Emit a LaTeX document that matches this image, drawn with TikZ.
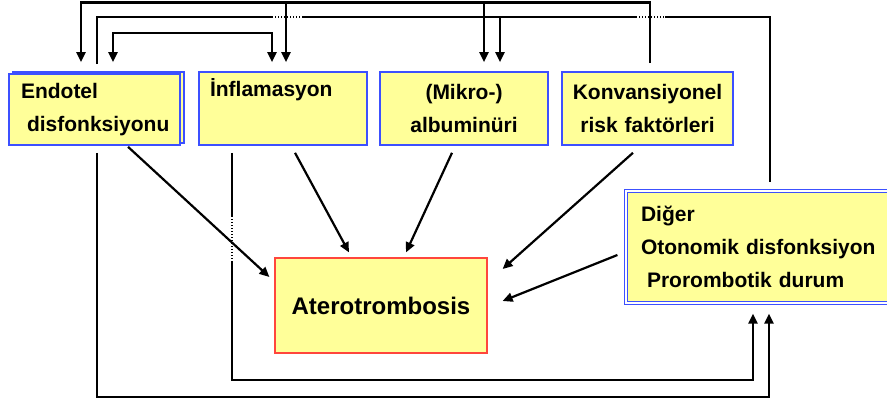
\documentclass[tikz,border=0pt]{standalone}
\usepackage{fontspec}
\setmainfont{Liberation Sans}
\usetikzlibrary{arrows.meta,shadows}
\definecolor{BoxBlue}{RGB}{60,80,255}
\definecolor{BoxYellow}{RGB}{255,255,153}
\definecolor{BoxRed}{RGB}{255,70,60}
\tikzset{
  box/.style={draw=BoxBlue,fill=BoxYellow,line width=1.6pt,inner sep=0pt,
    font=\fontsize{21}{33}\selectfont\bfseries},
  conn/.style={draw=black,line width=2.2pt},
  arr/.style={-{Triangle[length=10pt,width=9pt]}},
  arrboth/.style={{Triangle[length=10pt,width=9pt]}-{Triangle[length=10pt,width=9pt]}},
}
\tikzset{crossgap/.style={draw=white,line width=2.6pt,dash pattern=on 1.5pt off 1.5pt}}

\begin{document}
\begin{tikzpicture}[x=1pt,y=-1pt]
\path[fill=white,use as bounding box] (0,0) rectangle (887,404);
\node[box,copy shadow={shadow xshift=4pt,shadow yshift=2pt},minimum height=71pt,
  text width=147pt,inner xsep=12pt,align=left] (endo) at (94.5,109.5)
  {Endotel\\\hspace*{6pt}\mbox{disfonksiyonu}};
\node[box,minimum height=73pt,text width=146pt,inner xsep=11pt,align=left] (infl) at (283,108.5)
  {İnflamasyon\\\strut};
\node[box,minimum height=73pt,text width=168pt,align=center] (mikro) at (464,108.5)
  {(Mikro-)\hspace*{18pt}\\albuminüri};
\node[box,minimum height=73pt,text width=171pt,align=center] (konv) at (647.5,108.5)
  {Konvansiyonel\\risk faktörleri};
\node[box,line width=1.2pt,double=white,double distance=1.5pt,minimum height=112pt,
  text width=245pt,inner xsep=15pt,align=left] (digr) at (763.5,247)
  {Diğer\\Otonomik disfonksiyon\\\hspace*{6pt}Prorombotik durum};
\node[box,draw=BoxRed,line width=1.2pt,minimum width=212pt,minimum height=95pt,
  font=\fontsize{24}{29}\selectfont\bfseries] (atero) at (381,305.5) {Aterotrombosis};

\coordinate (top1) at (0,2.5);
\coordinate (top2) at (0,17);
\coordinate (top3) at (0,33);
\coordinate (bot1) at (0,397);
\coordinate (bot2) at (0,380);

% upper loops
\draw[conn] ([xshift=2.5pt,yshift=9pt]endo.north) -- ([xshift=2.5pt]endo.north |- top2)
  -| ([xshift=6.5pt,yshift=8pt]digr.north);
\draw[conn,arr] ([xshift=36pt]mikro.north |- top2) -- ([xshift=36pt,yshift=9pt]mikro.north);
\draw[crossgap] (273,17) -- (302,17);
\draw[crossgap] (637,17) -- (665,17);
\draw[conn,arr] ([xshift=2.5pt,yshift=8pt]konv.north) -- ([xshift=2.5pt]konv.north |- top1)
  -| ([xshift=-13.5pt,yshift=11pt]endo.north);
\draw[conn,arr] ([xshift=3pt]infl.north |- top1) -- ([xshift=3pt,yshift=9pt]infl.north);
\draw[conn,arr] ([xshift=20pt]mikro.north |- top1) -- ([xshift=20pt,yshift=9pt]mikro.north);
\draw[conn,arrboth] ([xshift=18.5pt,yshift=11pt]endo.north) -- ([xshift=18.5pt]endo.north |- top3)
  -| ([xshift=-11pt,yshift=9pt]infl.north);

% lower loops
\draw[conn,arr] ([xshift=-51pt,yshift=-7pt]infl.south) -- ([xshift=-51pt]infl.south |- bot2)
  -| ([xshift=-10.5pt,yshift=-10pt]digr.south);
\draw[crossgap] (232,217) -- (232,262);
\draw[conn,arr] ([xshift=2.5pt,yshift=-7pt]endo.south) -- ([xshift=2.5pt]endo.south |- bot1)
  -| ([xshift=5.5pt,yshift=-10pt]digr.south);

% into aterotrombosis
\draw[conn,arr] ([xshift=33.5pt,yshift=-1pt]endo.south) -- ([xshift=-5pt,yshift=28.5pt]atero.west);
\draw[conn,arr] ([xshift=12pt,yshift=-7pt]infl.south) -- ([xshift=-32pt,yshift=5pt]atero.north);
\draw[conn,arr] ([xshift=-12pt,yshift=-7pt]mikro.south) -- ([xshift=25pt,yshift=5pt]atero.north);
\draw[conn,arr] ([xshift=-14.5pt,yshift=-7pt]konv.south) -- ([xshift=15pt,yshift=36.5pt]atero.east);
\draw[conn,arr] ([xshift=-8pt,yshift=-8pt]digr.west) -- ([xshift=15pt,yshift=4.5pt]atero.east);
\end{tikzpicture}
\end{document}
